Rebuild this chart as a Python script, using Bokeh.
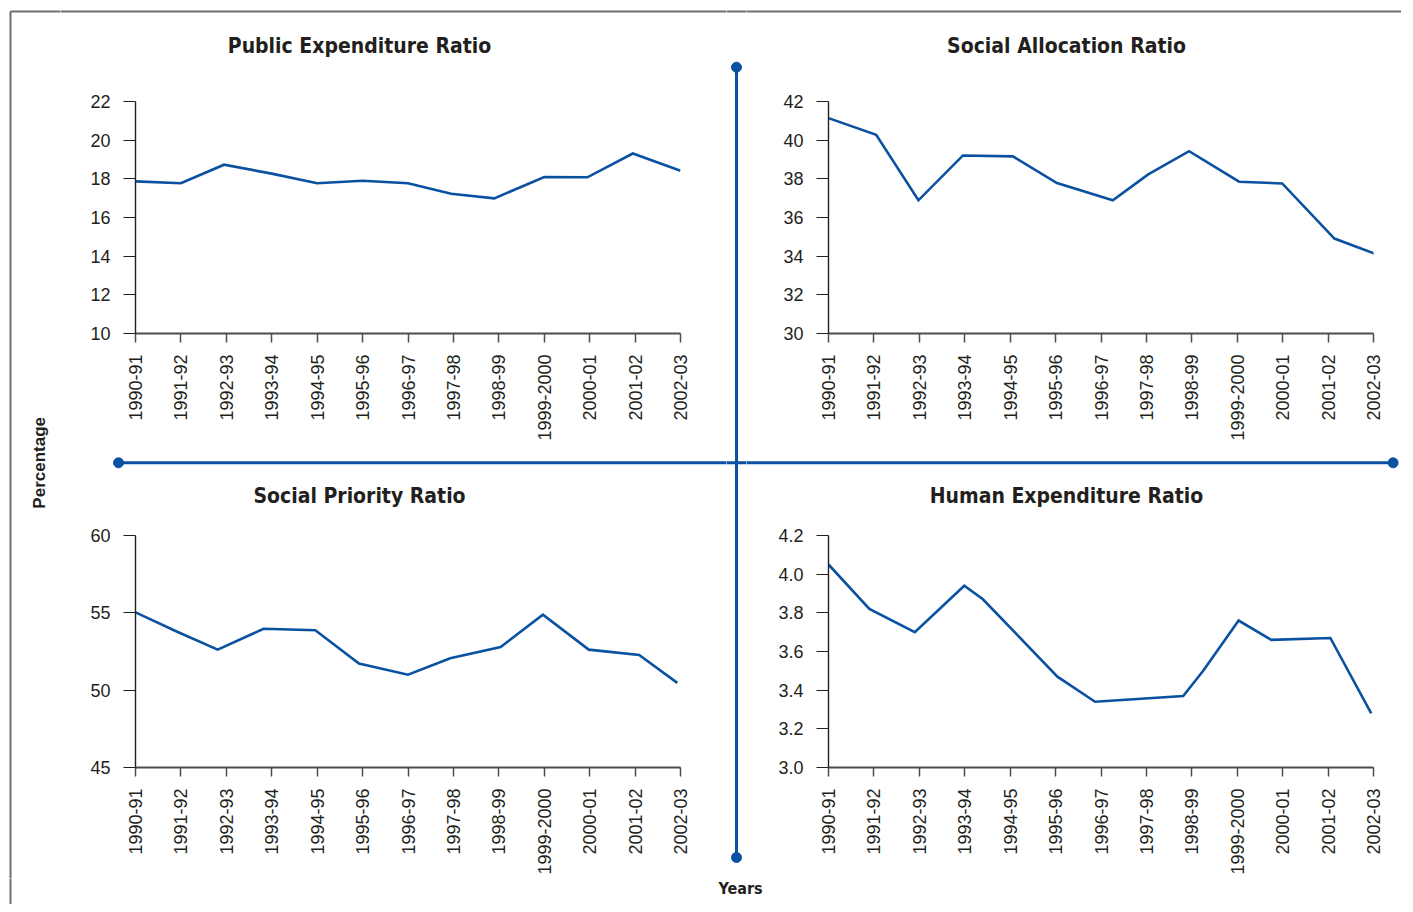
import numpy as np
from bokeh.plotting import figure
from bokeh.layouts import row, column
from bokeh.models import Range1d, FixedTicker, PrintfTickFormatter
from bokeh.core.properties import value
from bokeh.embed import file_html
from bokeh.resources import INLINE

# ---------------- data ----------------
years = ["1990-91", "1991-92", "1992-93", "1993-94", "1994-95", "1995-96", "1996-97",
         "1997-98", "1998-99", "1999-2000", "2000-01", "2001-02", "2002-03"]

titles = ["Public Expenditure Ratio", "Social Allocation Ratio",
          "Social Priority Ratio", "Human Expenditure Ratio"]
y_label = "Percentage"
x_label = "Years"

# vertex positions on the year axis (0 = 1990-91) and values
pub_x = [0, 1, 1.95, 3, 4, 5, 6, 6.95, 7.9, 9, 9.95, 10.95, 12]
pub_y = [17.87, 17.77, 18.73, 18.27, 17.77, 17.9, 17.77, 17.23, 16.99, 18.09, 18.08, 19.31, 18.42]

soc_alloc_x = [0, 1.05, 1.98, 2.96, 4.06, 5.03, 6.26, 7.04, 7.94, 9.04, 9.99, 11.14, 12.06]
soc_alloc_y = [41.14, 40.28, 36.89, 39.21, 39.16, 37.78, 36.89, 38.23, 39.43, 37.85, 37.76, 34.91, 34.10]

soc_prio_x = [0, 0.93, 1.81, 2.82, 3.96, 4.92, 6.0, 6.93, 8.04, 8.97, 9.98, 11.09, 11.93]
soc_prio_y = [55.03, 53.76, 52.62, 53.97, 53.87, 51.72, 51.0, 52.06, 52.79, 54.88, 52.62, 52.27, 50.47]

human_x = [0, 0.9, 1.9, 2.99, 3.4, 5.04, 5.87, 7.81, 8.25, 9.03, 9.75, 11.05, 11.95]
human_y = [4.05, 3.82, 3.70, 3.94, 3.87, 3.47, 3.34, 3.37, 3.50, 3.76, 3.66, 3.67, 3.28]

pub_ticks = [10, 12, 14, 16, 18, 20, 22]
alloc_ticks = [30, 32, 34, 36, 38, 40, 42]
prio_ticks = [45, 50, 55, 60]
human_ticks = [3.0, 3.2, 3.4, 3.6, 3.8, 4.0, 4.2]

# ---------------- style ----------------
BLUE = "#0a52a1"
INK = "#231f20"
FRAME = "#6e6e6e"
TICK_FONT = "Liberation Sans"
TITLE_FONT = "DejaVu Sans Condensed"


def deco(ox, oy, w, h):
    """Decoration strip whose data coordinates equal page pixel coordinates."""
    p = figure(width=w, height=h, x_range=Range1d(ox, ox + w), y_range=Range1d(oy + h, oy),
               x_axis_type=None, y_axis_type=None, min_border=0, toolbar_location=None,
               tools="", output_backend="svg", title=None, frame_align=False)
    p.outline_line_color = None
    p.background_fill_color = "white"
    p.border_fill_color = "white"
    return p


def panel(w, h, left, top, right, bottom, xs, ys, yticks, fmt):
    p = figure(width=w, height=h, x_range=Range1d(0, 12),
               y_range=Range1d(yticks[0], yticks[-1]),
               min_border_left=left, min_border_top=top, min_border_right=right,
               min_border_bottom=bottom, toolbar_location=None, tools="",
               output_backend="svg", title=None, frame_align=False)
    p.outline_line_color = None
    p.xgrid.visible = False
    p.ygrid.visible = False
    p.line(xs, ys, line_color=BLUE, line_width=2.6, line_join="miter")

    xa = p.xaxis[0]
    xa.ticker = FixedTicker(ticks=list(range(len(years))))
    xa.major_label_overrides = {i: lab for i, lab in enumerate(years)}
    xa.major_label_orientation = np.pi / 2
    xa.axis_line_color = "#4d4d4d"
    xa.axis_line_width = 2
    xa.major_tick_line_color = "#4d4d4d"
    xa.major_tick_line_width = 1.5
    xa.major_tick_in = 0
    xa.major_tick_out = 9
    xa.minor_tick_line_color = None
    xa.major_label_standoff = 12
    xa.major_label_text_font = TICK_FONT
    xa.major_label_text_font_size = "18px"
    xa.major_label_text_color = INK

    ya = p.yaxis[0]
    ya.ticker = FixedTicker(ticks=yticks)
    ya.formatter = PrintfTickFormatter(format=fmt)
    ya.axis_line_color = INK
    ya.axis_line_width = 1.4
    ya.major_tick_line_color = INK
    ya.major_tick_line_width = 1.2
    ya.major_tick_in = 0
    ya.major_tick_out = 12
    ya.minor_tick_line_color = None
    ya.major_label_standoff = 13
    ya.major_label_text_font = TICK_FONT
    ya.major_label_text_font_size = "18px"
    ya.major_label_text_color = INK
    return p


def title_text(p, x, y, txt):
    p.text(x=[x], y=[y], text=[txt], text_font=value(TITLE_FONT), text_font_style="bold",
           text_font_size="21px", text_align="center", text_baseline="middle",
           text_color=INK)


# ---------------- geometry (page pixels) ----------------
LX0, LW = 60, 666      # left column
MX0, MW = 726, 20      # middle strip
RX0, RW = 746, 655     # right column
HEAD_H, TOP_H, MID_H, BOT_H, FOOT_H = 75, 377, 68, 358, 26
Y_TOP = HEAD_H
Y_MID = Y_TOP + TOP_H
Y_BOT = Y_MID + MID_H
Y_FOOT = Y_BOT + BOT_H
CROSS_Y = 462.3
CROSS_X = 736
DOT = 10

# left strip: frame lines + "Percentage"
left = deco(0, 0, LX0, Y_FOOT)
left.line([10, 80], [11, 11], line_color=FRAME, line_width=2)
left.line([10, 10], [11, 1000], line_color=FRAME, line_width=2)
left.text(x=[38.5], y=[CROSS_Y], text=[y_label], angle=np.pi / 2,
          text_font=value("Liberation Sans"), text_font_style="bold",
          text_font_size="17px", text_align="center", text_baseline="middle",
          text_color=INK)

# heads with titles and top frame line
tl_head = deco(LX0, 0, LW, HEAD_H)
tl_head.line([0, 2000], [11, 11], line_color=FRAME, line_width=2)
title_text(tl_head, 359, 45, titles[0])
tr_head = deco(RX0, 0, RW, HEAD_H)
tr_head.line([0, 2000], [11, 11], line_color=FRAME, line_width=2)
title_text(tr_head, 1066, 45, titles[1])

# middle strips with horizontal cross line and lower titles
mid_l = deco(LX0, Y_MID, LW, MID_H)
mid_l.line([118, 800], [CROSS_Y, CROSS_Y], line_color=BLUE, line_width=3)
mid_l.scatter([118], [CROSS_Y], size=DOT, color=BLUE)
title_text(mid_l, 359, 495.5, titles[2])
mid_r = deco(RX0, Y_MID, RW, MID_H)
mid_r.line([700, 1392.6], [CROSS_Y, CROSS_Y], line_color=BLUE, line_width=3)
mid_r.scatter([1392.6], [CROSS_Y], size=DOT, color=BLUE)
title_text(mid_r, 1066, 495.5, titles[3])

# vertical strip
vm = deco(MX0, 0, MW, Y_FOOT)
vm.line([0, 2000], [11, 11], line_color=FRAME, line_width=2)
vm.line([CROSS_X, CROSS_X], [66.7, 857], line_color=BLUE, line_width=3)
vm.line([700, 800], [CROSS_Y, CROSS_Y], line_color=BLUE, line_width=3)
vm.scatter([CROSS_X, CROSS_X], [66.7, 857], size=DOT, color=BLUE)

# panels
tl = panel(LW, TOP_H, 75, 26, 46, TOP_H - 26 - 232, pub_x, pub_y, pub_ticks, "%d")
tr = panel(RW, TOP_H, 82, 26, RW - 82 - 545, TOP_H - 26 - 232, soc_alloc_x, soc_alloc_y, alloc_ticks, "%d")
bl = panel(LW, BOT_H, 75, 15, 46, BOT_H - 15 - 232, soc_prio_x, soc_prio_y, prio_ticks, "%d")
br = panel(RW, BOT_H, 82, 15, RW - 82 - 545, BOT_H - 15 - 232, human_x, human_y, human_ticks, "%.1f")

# footer with "Years"
foot = deco(0, Y_FOOT, LX0 + LW + MW + RW, FOOT_H)
foot.line([10, 10], [0, 2000], line_color=FRAME, line_width=2)
foot.text(x=[740], y=[887.5], text=[x_label], text_font=value(TITLE_FONT), text_font_style="bold",
          text_font_size="16px", text_align="center", text_baseline="middle",
          text_color=INK)

layout = column(
    row(left,
        column(tl_head, tl, mid_l, bl, spacing=0),
        vm,
        column(tr_head, tr, mid_r, br, spacing=0),
        spacing=0),
    foot,
    spacing=0,
)

open("out.html", "w").write(file_html(layout, INLINE))
